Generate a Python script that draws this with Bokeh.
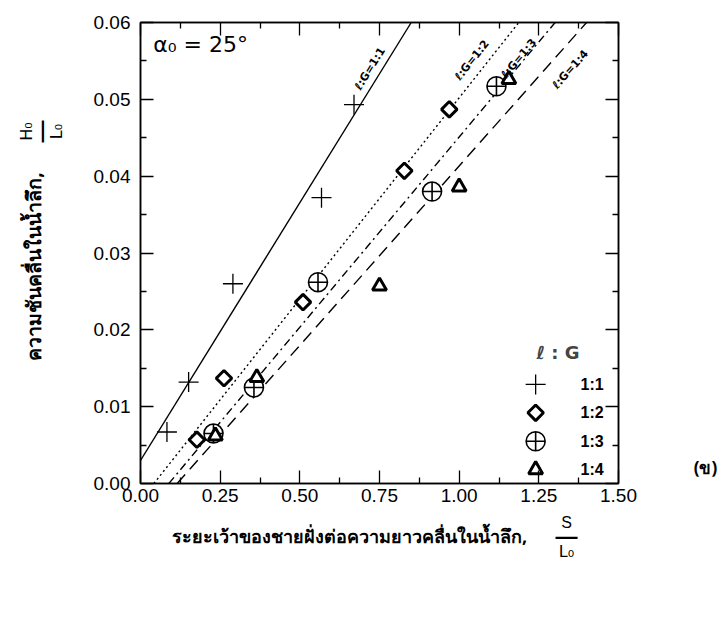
import math
from bokeh.plotting import figure
from bokeh.models import Label, FixedTicker, PrintfTickFormatter, LinearAxis
from bokeh.core.properties import value
from bokeh.embed import file_html
from bokeh.resources import INLINE

# ---- data ----
x_ticks = [0.0, 0.25, 0.5, 0.75, 1.0, 1.25, 1.5]
x_minor = [0.125, 0.375, 0.625, 0.875, 1.125, 1.375]
y_ticks = [0.0, 0.01, 0.02, 0.03, 0.04, 0.05, 0.06]
y_minor = [0.005, 0.015, 0.025, 0.035, 0.045, 0.055]

groups = ["1:1", "1:2", "1:3", "1:4"]
s_11 = [0.083, 0.151, 0.290, 0.568, 0.670]
h_11 = [0.0067, 0.0132, 0.0260, 0.0372, 0.0493]
s_12 = [0.177, 0.262, 0.510, 0.828, 0.969]
h_12 = [0.0057, 0.0137, 0.0236, 0.0407, 0.0487]
s_13 = [0.229, 0.356, 0.557, 0.915, 1.117]
h_13 = [0.0065, 0.0125, 0.0262, 0.0380, 0.0517]
s_14 = [0.235, 0.365, 0.750, 1.000, 1.156]
h_14 = [0.0062, 0.0138, 0.0257, 0.0386, 0.0526]

# fitted lines: H0/L0 = slope * (S/L0 - x_intercept)
fit_slope = [0.0671, 0.0524, 0.0495, 0.0467]
fit_xint = [-0.0447, 0.042, 0.089, 0.115]
line_labels = ["ℓ:G=1:1", "ℓ:G=1:2", "ℓ:G=1:3", "ℓ:G=1:4"]

XMIN, XMAX, YMIN, YMAX = 0.0, 1.5, 0.0, 0.06

# frame geometry (pixels)
F_LEFT, F_RIGHT, F_TOP, F_BOTTOM = 140, 618, 22, 483
W, H = 726, 623

p = figure(width=W, height=H, x_range=(XMIN, XMAX), y_range=(YMIN, YMAX),
           output_backend="svg", toolbar_location=None,
           min_border_left=F_LEFT, min_border_right=W - F_RIGHT,
           min_border_top=F_TOP, min_border_bottom=H - F_BOTTOM)
p.background_fill_color = "white"
p.border_fill_color = "white"
p.grid.visible = False
p.outline_line_color = "black"
p.outline_line_width = 1.5

TICKFONT = "Liberation Sans"

def style_axis(ax, show_labels, standoff):
    ax.axis_line_color = "black"
    ax.axis_line_width = 1.5
    ax.major_tick_in = 13
    ax.major_tick_out = 0
    ax.minor_tick_in = 6
    ax.minor_tick_out = 0
    ax.major_tick_line_width = 1.3
    ax.minor_tick_line_width = 1.3
    ax.major_label_text_font = TICKFONT
    ax.major_label_text_font_size = "19px"
    ax.major_label_text_color = "black" if show_labels else None
    ax.major_label_standoff = standoff

p.xaxis.ticker = FixedTicker(ticks=x_ticks, minor_ticks=x_minor)
p.yaxis.ticker = FixedTicker(ticks=y_ticks, minor_ticks=y_minor)
p.xaxis.formatter = PrintfTickFormatter(format="%.2f")
p.yaxis.formatter = PrintfTickFormatter(format="%.2f")
style_axis(p.xaxis[0], True, 5)
style_axis(p.yaxis[0], True, 10)

top = LinearAxis(ticker=FixedTicker(ticks=x_ticks, minor_ticks=x_minor))
style_axis(top, False, 2)
p.add_layout(top, "above")
right = LinearAxis(ticker=FixedTicker(ticks=y_ticks, minor_ticks=y_minor))
style_axis(right, False, 2)
p.add_layout(right, "right")

# ---- fitted lines ----
dashes = ["solid", "2 3", "8 4 2 4", "12 7"]
for sl, xi, dsh in zip(fit_slope, fit_xint, dashes):
    xa = xi
    xb = xi + YMAX / sl
    p.line([xa, xb], [sl * (xa - xi), sl * (xb - xi)], line_color="black",
           line_width=1.4, line_dash=dsh)

# ---- data points ----
def draw_markers(xs, ys, kind):
    if kind == 0:
        p.scatter(xs, ys, marker="cross", size=20, line_color="black", line_width=1.3)
    elif kind == 1:
        p.scatter(xs, ys, marker="square", size=11, angle=math.pi / 4, line_color="black",
                  line_width=3, fill_color="white")
    elif kind == 2:
        p.scatter(xs, ys, marker="circle_cross", size=19, line_color="black",
                  line_width=1.6, fill_color="white")
    else:
        p.scatter(xs, ys, marker="triangle", size=14, line_color="black", line_width=3,
                  fill_color="white")

for k, (xs, ys) in enumerate([(s_11, h_11), (s_12, h_12), (s_13, h_13), (s_14, h_14)]):
    draw_markers(xs, ys, k)

# ---- line labels ----
px_per_x = (F_RIGHT - F_LEFT) / (XMAX - XMIN)
px_per_y = (F_BOTTOM - F_TOP) / (YMAX - YMIN)
lab_x = [0.72, 1.04, 1.1875, 1.349]
lab_y = [0.0540, 0.0551, 0.0553, 0.0539]
angles = [math.atan(sl * px_per_y / px_per_x) for sl in fit_slope]
p.text(lab_x, lab_y, text=line_labels, angle=angles, text_font=value("DejaVu Sans"),
       text_font_size="11px", text_font_style="bold", text_align="center",
       text_baseline="middle", text_color="black")

# ---- alpha annotation ----
p.add_layout(Label(x=0.04, y=0.0572, text="α₀ = 25°", text_font="DejaVu Sans",
                   text_font_size="22px", text_baseline="middle", text_color="black"))

# ---- legend (drawn manually) ----
leg_x = 1.24
leg_y = [0.0129, 0.0092, 0.0055, 0.0018]
p.add_layout(Label(x=1.31, y=0.0170, text="ℓ : G", text_font="DejaVu Sans",
                   text_font_size="18px", text_font_style="bold", text_align="center",
                   text_baseline="middle"))
for k in range(4):
    draw_markers([leg_x], [leg_y[k]], k)
p.text([1.381] * 4, leg_y, text=groups, text_font=value("Liberation Sans"),
       text_font_size="16px", text_font_style="bold", text_baseline="middle",
       text_color="black")

# ---- axis titles (outside frame, in side panels so they are not clipped) ----
def dx(px):
    return XMIN + (px - F_LEFT) / px_per_x

def dy(py):
    return YMIN + (F_BOTTOM - py) / px_per_y

TH = "Noto Sans"
def side_label(side, px, py, text, font, size, bold=False, angle=0.0):
    p.add_layout(Label(x=dx(px), y=dy(py), text=text, angle=angle, text_font=font,
                       text_font_size=size, text_font_style="bold" if bold else "normal",
                       text_align="center", text_baseline="middle", text_color="black"),
                 side)

side_label("below", 349, 535, "ระยะเว้าของชายฝั่งต่อความยาวคลื่นในน้ำลึก,", TH, "18px", True)
side_label("below", 566, 522, "S", "Liberation Sans", "16px")
side_label("below", 566, 536, "—", "Liberation Sans", "22px", True)
side_label("below", 566, 551, "L₀", "DejaVu Sans", "16px")

side_label("left", 33, 266, "ความชันคลื่นในน้ำลึก,", TH, "19.5px", True, math.pi / 2)
side_label("left", 26, 131, "H₀", "DejaVu Sans", "16px", False, math.pi / 2)
side_label("left", 41, 131, "—", "Liberation Sans", "22px", True, math.pi / 2)
side_label("left", 56, 131, "L₀", "DejaVu Sans", "16px", False, math.pi / 2)

side_label("right", 705, 467, "(ข)", TH, "17px", True)

open("out.html", "w").write(file_html(p, INLINE))
